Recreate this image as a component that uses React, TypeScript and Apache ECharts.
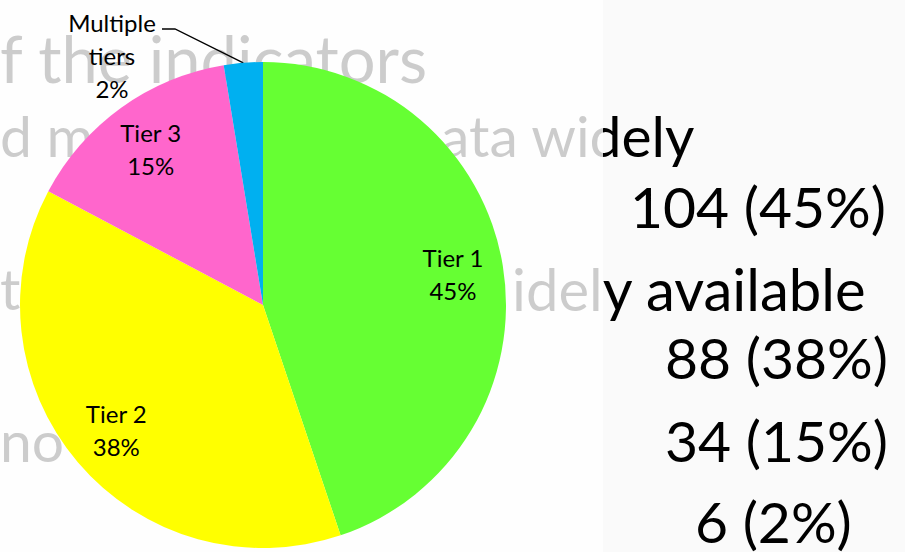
import React, { useEffect, useRef } from "react";
import * as echarts from "echarts";

// ---- data ----
const categories = ["Tier 1", "Tier 2", "Tier 3", "Multiple tiers"];
const counts = [104, 88, 34, 6];
const sliceColors = ["#66FF33", "#FFFF00", "#FF66CC", "#00B0F0"];

// slide text fragments behind / beside the chart
const slideTexts = [
  "f the indicators",
  "d m",
  "ata widely",
  "104 (45%)",
  "t",
  "idely available",
  "88 (38%)",
  "no",
  "34 (15%)",
  "6 (2%)",
];

const FONT = "Lato, 'Noto Sans', sans-serif";

export default function App() {
  const ref = useRef<HTMLDivElement>(null);

  useEffect(() => {
    if (!ref.current) return;
    const chart = echarts.init(ref.current, undefined, { renderer: "svg" });

    // layout for slide text: [x, middleY, fontSize]
    const textPos: [number, number, number][] = [
      [0, 58, 65],
      [0, 135, 57],
      [441, 135, 57],
      [630, 206, 57],
      [0, 288, 57],
      [512, 288, 58],
      [665, 357, 57],
      [0, 440, 57],
      [665, 440, 57],
      [695, 521, 57],
    ];

    const graphicTexts = slideTexts.map((t, i) => ({
      type: "text",
      x: textPos[i][0],
      y: textPos[i][1],
      z: 0,
      silent: true,
      style: {
        text: t,
        fill: "#000000",
        fontSize: textPos[i][2],
        fontFamily: FONT,
        textAlign: "left",
        verticalAlign: "middle",
      },
    }));

    const mainData = categories.map((name, i) => {
      const item: any = {
        name,
        value: counts[i],
        itemStyle: { color: sliceColors[i] },
      };
      if (i === 3) {
        item.label = {
          show: true,
          position: "outside",
          formatter: (p: any) => p.name.split(" ").join("\n") + "\n" + p.percent + "%",
          color: "#000",
          fontFamily: FONT,
          fontSize: 24,
          lineHeight: 33,
          align: "center",
        };
        item.labelLine = {
          show: true,
          length: 20,
          length2: 10,
          lineStyle: { color: "#000", width: 1.3 },
        };
      }
      return item;
    });

    const labelData = categories.map((name, i) => ({
      name,
      value: counts[i],
      itemStyle: { color: "rgba(0,0,0,0)" },
      label: { show: i !== 3 },
    }));

    const center = [263, 305];
    const R = 243;

    chart.setOption({
      animation: false,
      backgroundColor: "#fafafa",
      graphic: [
        ...graphicTexts,
        {
          type: "rect",
          z: 1,
          silent: true,
          shape: { x: 0, y: 0, width: 603, height: 552 },
          style: { fill: "rgba(255,255,255,0.8)" },
        },
      ],
      series: [
        {
          type: "pie",
          silent: true,
          z: 3,
          center,
          radius: [0, R],
          startAngle: 90,
          clockwise: true,
          percentPrecision: 0,
          avoidLabelOverlap: false,
          label: { show: false },
          labelLine: { show: false },
          itemStyle: { borderWidth: 0 },
          data: mainData,
          labelLayout: (params: any) => {
            if (params.dataIndex !== 3) return {};
            const lx = 112;
            const ly = 55;
            const pts = params.labelLinePoints;
            const out: any = { x: lx, y: ly, align: "center", verticalAlign: "middle" };
            if (pts && pts.length) {
              out.labelLinePoints = [pts[0], [lx + 63, ly - 26], [lx + 50, ly - 26]];
            }
            return out;
          },
        },
        {
          type: "pie",
          silent: true,
          z: 4,
          center,
          radius: [136, R],
          startAngle: 90,
          clockwise: true,
          percentPrecision: 0,
          avoidLabelOverlap: false,
          itemStyle: { borderWidth: 0 },
          label: {
            show: true,
            position: "inside",
            formatter: "{b}\n{d}%",
            color: "#000",
            fontFamily: FONT,
            fontSize: 24,
            lineHeight: 33,
            align: "center",
          },
          labelLine: { show: false },
          emphasis: { disabled: true },
          data: labelData,
        },
      ],
    });

    return () => chart.dispose();
  }, []);

  return (
    <div
      ref={ref}
      style={{ position: "fixed", left: 0, top: 0, width: 905, height: 552 }}
    />
  );
}
